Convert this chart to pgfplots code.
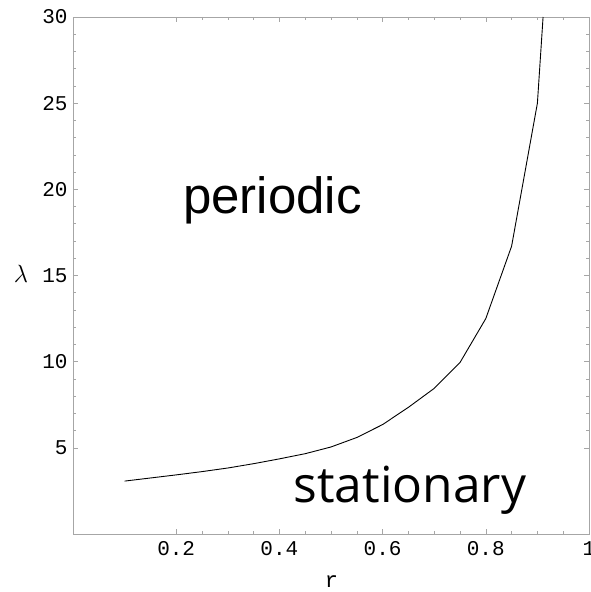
\documentclass[border=0pt]{standalone}
\usepackage{pgfplots}
\pgfplotsset{compat=1.18}
\usepackage{fontspec}
\setmainfont{Liberation Sans}
\newfontfamily\tickfont{Liberation Mono}
\newfontfamily\labfont{Open Sans}
\usetikzlibrary{calc}

\begin{document}
\begin{tikzpicture}
\begin{axis}[
    width=516pt, height=517pt,
    scale only axis,
    xmin=0, xmax=1,
    ymin=0, ymax=30,
    xtick={0.2,0.4,0.6,0.8,1},
    xticklabels={0.2,0.4,0.6,0.8,1},
    ytick={5,10,15,20,25,30},
    yticklabels={5,10,15,20,25,30},
    minor x tick num=3,
    minor y tick num=4,
    tick align=inside,
    major tick length=5pt,
    minor tick length=3pt,
    axis line style={gray!70, line width=0.8pt},
    every tick/.style={gray!70, line width=0.6pt},
    tick label style={font=\tickfont\fontsize{21}{24}\selectfont, black},
    xticklabel style={yshift=-4pt},
    yticklabel style={xshift=-2pt},
    xlabel={\tickfont\fontsize{22}{24}\selectfont r},
    ylabel={\fontsize{25}{28}\selectfont$\lambda$},
    xlabel style={at={(axis description cs:0.501,0)}, anchor=base, yshift=-53pt},
    ylabel style={at={(axis description cs:-0.101,0.5)}, rotate=-90, anchor=center, yshift=2pt},
]
\addplot[black, line width=0.9pt] coordinates {
  (0.10,3.07) (0.15,3.25) (0.20,3.43) (0.25,3.62) (0.30,3.83)
  (0.35,4.08) (0.40,4.36) (0.45,4.66) (0.50,5.05) (0.55,5.60)
  (0.60,6.35) (0.65,7.35) (0.70,8.45) (0.75,9.95) (0.80,12.5)
  (0.85,16.7) (0.90,25.0) (0.911,30)
};
\node[font=\fontsize{51}{56}\selectfont, anchor=base] at (axis cs:0.3866,18.62) {periodic};
\node[font=\labfont\fontsize{49.7}{54}\selectfont, anchor=base] at (axis cs:0.653,1.856) {stationary};
\end{axis}
\pgfresetboundingbox
\path ($(current axis.south west)+(-73pt,-58pt)$) rectangle ($(current axis.north east)+(2pt,17pt)$);
\end{tikzpicture}
\end{document}
